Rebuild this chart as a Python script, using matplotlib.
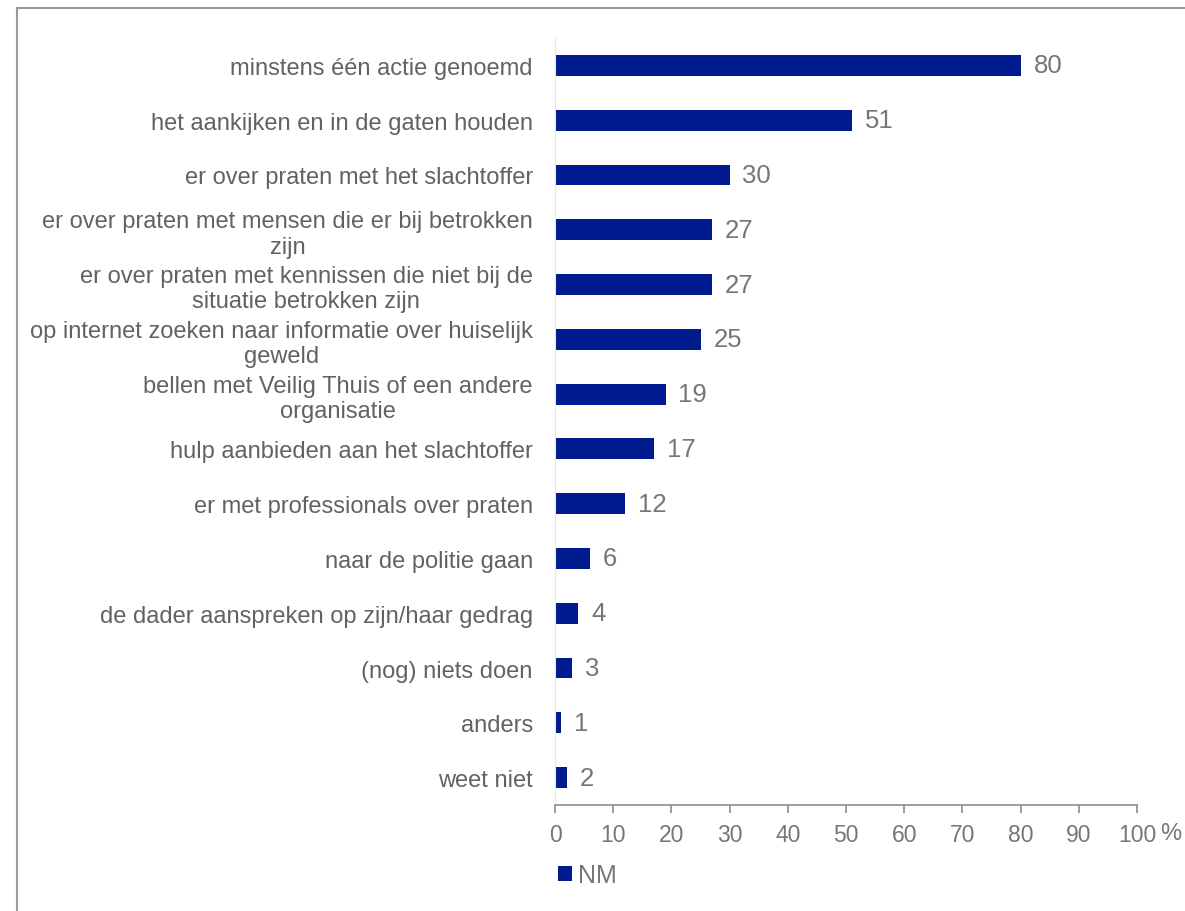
import matplotlib
matplotlib.use("Agg")
import matplotlib.pyplot as plt
from matplotlib.patches import Rectangle

categories = [
    "minstens één actie genoemd",
    "het aankijken en in de gaten houden",
    "er over praten met het slachtoffer",
    "er over praten met mensen die er bij betrokken\nzijn",
    "er over praten met kennissen die niet bij de\nsituatie betrokken zijn",
    "op internet zoeken naar informatie over huiselijk\ngeweld",
    "bellen met Veilig Thuis of een andere\norganisatie",
    "hulp aanbieden aan het slachtoffer",
    "er met professionals over praten",
    "naar de politie gaan",
    "de dader aanspreken op zijn/haar gedrag",
    "(nog) niets doen",
    "anders",
    "weet niet",
]
values = [80, 51, 30, 27, 27, 25, 19, 17, 12, 6, 4, 3, 1, 2]
series_name = "NM"
x_ticks = [0, 10, 20, 30, 40, 50, 60, 70, 80, 90, 100]

BAR = "#001a8f"
LABEL_GRAY = "#626262"
TICK_GRAY = "#767676"

plt.rcParams["font.family"] = ["Liberation Sans", "DejaVu Sans"]

W, H = 1185, 912
fig = plt.figure(figsize=(W / 100, H / 100), dpi=100)
ax = fig.add_axes([555 / W, 1 - 806 / H, (1137 - 555) / W, (806 - 39) / H])

ypos = list(range(len(categories)))
ax.barh(ypos, values, height=0.38, color=BAR, label=series_name)
ax.set_ylim(len(categories) - 0.5, -0.5)
ax.set_xlim(0, 100)

for y, v in zip(ypos, values):
    ax.text(v + 2.2, y, f"{v}", va="center", ha="left", fontsize=18.5, color=TICK_GRAY)

ax.set_yticks(ypos)
ax.set_yticklabels(categories, fontsize=17, color=LABEL_GRAY, multialignment="center",
                   linespacing=1.2)
ax.tick_params(axis="y", length=0, pad=16)

ax.set_xticks(x_ticks)
ax.set_xticklabels([str(t) for t in x_ticks], fontsize=16.5, color=TICK_GRAY)
ax.tick_params(axis="x", direction="out", length=6, width=1.2, color="#8c8c8c", pad=7)

for side in ("top", "right"):
    ax.spines[side].set_visible(False)
ax.spines["left"].set_color("#e6e6e6")
ax.spines["bottom"].set_color("#8c8c8c")
ax.spines["bottom"].set_linewidth(1.2)

fig.text(1160 / W, 1 - 834 / H, "%", fontsize=17, color=TICK_GRAY, ha="left", va="center")

leg = ax.legend(loc="center left", bbox_to_anchor=(558 / W, 1 - 876 / H),
                bbox_transform=fig.transFigure, frameon=False, borderpad=0, borderaxespad=0,
                handlelength=0.55, handleheight=0.55, handletextpad=0.25, fontsize=18)
for t in leg.get_texts():
    t.set_color(TICK_GRAY)

# outer frame around the chart area
fig.patches.append(Rectangle((17 / W, -0.05), 1.2, 1 - 9 / H + 0.05, transform=fig.transFigure,
                             fill=False, edgecolor="#999999", linewidth=1.5))

fig.savefig("out.png", dpi=100)
